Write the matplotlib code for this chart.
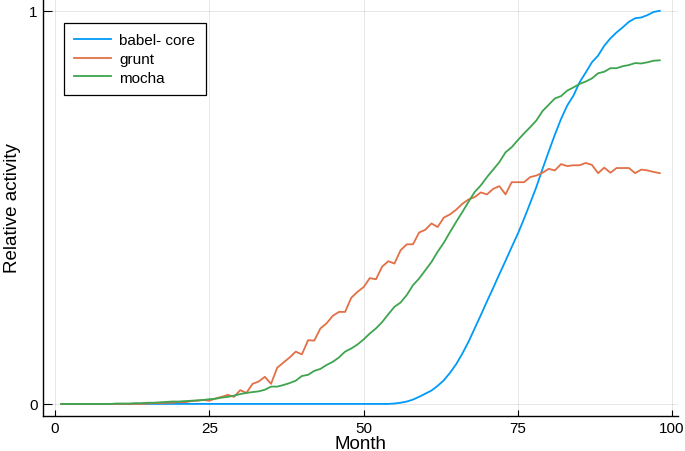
import matplotlib
matplotlib.use("Agg")
import matplotlib.pyplot as plt

plt.rcParams['font.family'] = ['Liberation Sans', 'DejaVu Sans']

months = list(range(1, 99))

babel_core = [0.0] * 54 + [
    0.001, 0.003, 0.006, 0.011, 0.018, 0.026, 0.034, 0.046, 0.060, 0.079,
    0.101, 0.128, 0.158, 0.192, 0.226, 0.261, 0.295, 0.330, 0.364, 0.399,
    0.433, 0.471, 0.511, 0.552, 0.598, 0.642, 0.685, 0.725, 0.759, 0.784,
    0.818, 0.843, 0.869, 0.886, 0.911, 0.930, 0.945, 0.958, 0.972, 0.981,
    0.983, 0.989, 0.997, 1.000]

grunt = [0.0] * 14 + [
    0.001, 0.002, 0.002, 0.003, 0.003, 0.005, 0.004, 0.007, 0.008, 0.010,
    0.008, 0.014, 0.018, 0.023, 0.018, 0.035, 0.028, 0.051, 0.057, 0.069,
    0.051, 0.092, 0.105, 0.118, 0.133, 0.126, 0.162, 0.161, 0.192, 0.205,
    0.224, 0.234, 0.234, 0.270, 0.285, 0.297, 0.320, 0.317, 0.349, 0.363,
    0.357, 0.391, 0.406, 0.406, 0.436, 0.443, 0.459, 0.450, 0.474, 0.482,
    0.494, 0.509, 0.520, 0.526, 0.538, 0.533, 0.547, 0.554, 0.533, 0.564,
    0.564, 0.564, 0.577, 0.581, 0.588, 0.598, 0.594, 0.610, 0.605, 0.607,
    0.607, 0.613, 0.608, 0.587, 0.601, 0.588, 0.600, 0.600, 0.600, 0.587,
    0.596, 0.594, 0.590, 0.587]

mocha = [0.0] * 9 + [
    0.001, 0.001, 0.001, 0.002, 0.002, 0.003, 0.003, 0.004, 0.005, 0.006,
    0.006, 0.007, 0.008, 0.009, 0.010, 0.012, 0.013, 0.016, 0.018, 0.021,
    0.025, 0.028, 0.030, 0.032, 0.036, 0.044, 0.044, 0.048, 0.053, 0.059,
    0.071, 0.074, 0.084, 0.089, 0.099, 0.107, 0.118, 0.133, 0.141, 0.151,
    0.164, 0.179, 0.192, 0.208, 0.228, 0.247, 0.258, 0.277, 0.302, 0.319,
    0.340, 0.361, 0.387, 0.410, 0.437, 0.463, 0.488, 0.514, 0.539, 0.556,
    0.577, 0.596, 0.615, 0.640, 0.653, 0.671, 0.688, 0.704, 0.721, 0.745,
    0.761, 0.777, 0.783, 0.797, 0.805, 0.814, 0.820, 0.828, 0.841, 0.845,
    0.854, 0.854, 0.859, 0.862, 0.867, 0.866, 0.869, 0.873, 0.874]

series_names = ["babel- core", "grunt", "mocha"]
series_colors = ["#009AFA", "#E36F47", "#3EA44E"]
x_ticks = [0, 25, 50, 75, 100]
y_ticks = [0, 1]

fig = plt.figure(figsize=(6.85, 4.52), dpi=100)
ax = fig.add_axes([0.0632, 0.0781, 0.9262, 0.9219])

for vals, name, col in zip([babel_core, grunt, mocha], series_names, series_colors):
    ax.plot(months, vals, color=col, lw=1.3, label=name)

ax.set_xlim(-1.91, 100.91)
ax.set_ylim(-0.03, 1.03)
ax.set_xticks(x_ticks)
ax.set_yticks(y_ticks)
ax.set_xticklabels([str(t) for t in x_ticks])
ax.set_yticklabels([str(t) for t in y_ticks])
ax.grid(True, color='black', alpha=0.1, lw=0.7)
ax.set_axisbelow(True)

for s in ['top', 'right']:
    ax.spines[s].set_visible(False)
for s in ['left', 'bottom']:
    ax.spines[s].set_linewidth(1.0)
    ax.spines[s].set_color('black')

ax.tick_params(axis='x', direction='in', length=4.5, width=0.8, labelsize=11, pad=4)
ax.tick_params(axis='y', direction='in', length=6.5, width=0.8, labelsize=11, pad=4)

ax.set_xlabel("Month", fontsize=13.5, labelpad=0)
ax.set_ylabel("Relative activity", fontsize=13.5, labelpad=6)

leg = ax.legend(loc='upper left', bbox_to_anchor=(0.0326, 0.9424), borderaxespad=0,
                fontsize=11, frameon=True, fancybox=False, framealpha=1,
                edgecolor='black', handlelength=2.4, handletextpad=0.55,
                labelspacing=0.3, borderpad=0.68)
leg.get_frame().set_linewidth(0.9)

fig.savefig("out.png", dpi=100)
